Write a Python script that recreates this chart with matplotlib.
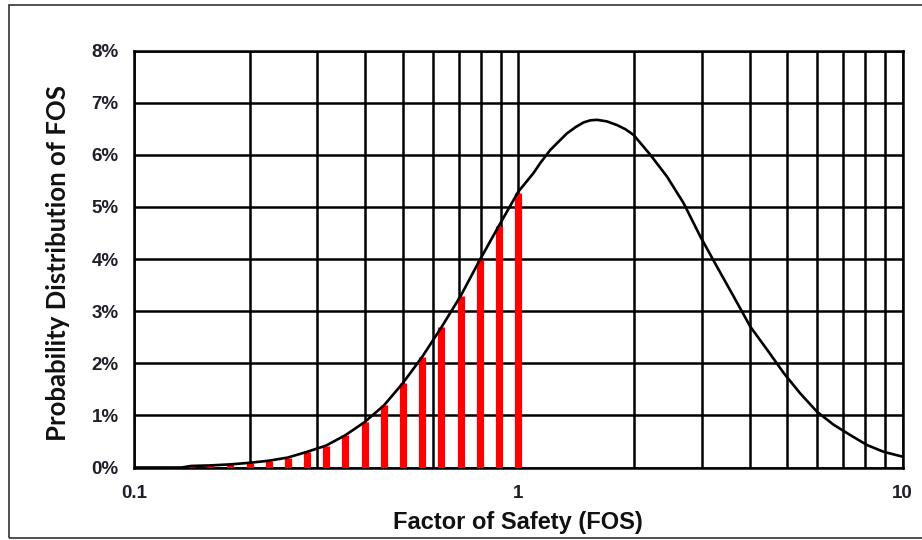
import matplotlib
matplotlib.use("Agg")
import matplotlib.pyplot as plt
from matplotlib.patches import Rectangle
from matplotlib.ticker import FixedLocator, FuncFormatter, NullFormatter

# ---- data ----
bar_fos = [0.141, 0.158, 0.178, 0.200, 0.224, 0.251, 0.282, 0.316, 0.355,
           0.398, 0.447, 0.501, 0.562, 0.631, 0.708, 0.794, 0.891, 1.000]
bar_pct = [0.03, 0.04, 0.06, 0.09, 0.13, 0.19, 0.30, 0.42, 0.62,
           0.87, 1.19, 1.62, 2.12, 2.69, 3.29, 3.98, 4.64, 5.27]

curve_fos = [0.100, 0.112, 0.126, 0.133,
             0.141, 0.158, 0.178, 0.200, 0.224, 0.251, 0.282, 0.316, 0.355,
             0.398, 0.447, 0.501, 0.562, 0.631, 0.708, 0.794, 0.891, 1.000,
             1.096, 1.141, 1.211, 1.273, 1.339, 1.410, 1.479, 1.540, 1.603,
             1.700, 1.807, 1.900, 1.996, 2.206, 2.439,
             2.694, 2.978, 3.291, 3.636, 4.019, 4.443, 4.910, 5.420, 5.990,
             6.620, 7.320, 8.090, 8.940, 9.980]
curve_pct = [0.00, 0.00, 0.00, 0.00,
             0.03, 0.04, 0.06, 0.09, 0.13, 0.19, 0.30, 0.42, 0.62,
             0.87, 1.19, 1.62, 2.12, 2.69, 3.29, 3.98, 4.64, 5.29,
             5.65, 5.84, 6.09, 6.25, 6.41, 6.53, 6.62, 6.66, 6.67,
             6.64, 6.57, 6.49, 6.38, 6.00, 5.58,
             5.07, 4.43, 3.85, 3.28, 2.70, 2.26, 1.81, 1.42, 1.07,
             0.82, 0.62, 0.43, 0.30, 0.21]

y_ticks = [0, 1, 2, 3, 4, 5, 6, 7, 8]
x_major = [0.1, 1, 10]
x_major_labels = ["0.1", "1", "10"]
x_minor = [m * d for d in (0.1, 1) for m in range(2, 10)]

x_label = "Factor of Safety (FOS)"
y_label = "Probability Distribution of FOS"

# ---- figure ----
W, H = 922, 540
fig = plt.figure(figsize=(W / 100, H / 100), dpi=100)
ax = fig.add_axes([134 / W, 1 - 467.5 / H, (902.5 - 134) / W, (467.5 - 50.5) / H])

ax.set_xscale("log")
ax.set_xlim(0.1, 10)
ax.set_ylim(0, 8)

grid_kw = dict(color="black", linewidth=1.8)
ax.xaxis.set_major_locator(FixedLocator(x_major))
ax.xaxis.set_minor_locator(FixedLocator(x_minor))
ax.xaxis.set_major_formatter(FuncFormatter(lambda v, p: x_major_labels[x_major.index(v)] if v in x_major else ""))
ax.xaxis.set_minor_formatter(NullFormatter())
ax.yaxis.set_major_locator(FixedLocator(y_ticks))
ax.yaxis.set_major_formatter(FuncFormatter(lambda v, p: f"{int(round(v))}%"))
ax.grid(True, which="both", axis="x", **grid_kw)
ax.grid(True, which="major", axis="y", **grid_kw)
ax.set_axisbelow(True)

for s in ax.spines.values():
    s.set_color("black")
    s.set_linewidth(1.8)

ax.tick_params(axis="both", which="both", length=0)
ax.tick_params(axis="x", pad=12.5)
ax.tick_params(axis="y", pad=11)
for lbl in ax.get_xticklabels() + ax.get_yticklabels():
    lbl.set_fontfamily("Liberation Sans")
    lbl.set_fontweight("bold")
    lbl.set_fontsize(13.5)
    lbl.set_color("#1f1f2a")

ax.vlines(bar_fos, 0, bar_pct, colors="#ff0000", linewidth=5.2, zorder=3, capstyle="butt")
ax.plot(curve_fos, curve_pct, color="black", linewidth=1.9, zorder=4,
        solid_joinstyle="round", solid_capstyle="round")

ax.set_xlabel(x_label, fontfamily="Liberation Sans", fontweight="bold", fontsize=17, color="#111111")
ax.xaxis.set_label_coords(0.5, -0.104)
ax.set_ylabel(y_label, fontfamily="Lato", fontweight="bold", fontsize=18.5, color="#111111")
ax.yaxis.set_label_coords(-0.083, 0.49)

# outer border of the picture
fig.patches.append(Rectangle((9 / W, 2 / H), 1.0, 1 - 7 / H, transform=fig.transFigure,
                             fill=False, edgecolor="#333333", linewidth=1.2, zorder=0))

fig.savefig("out.png", dpi=100)
